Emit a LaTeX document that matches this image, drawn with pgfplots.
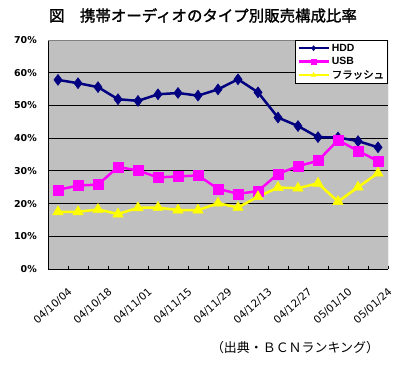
\documentclass[border=0pt]{standalone}
\usepackage{fontspec}
\setmainfont{Liberation Sans}
\newfontfamily\dejavu{DejaVu Sans}
\newfontfamily\jp[AutoFakeBold=1.5]{Noto Sans CJK JP}
\usepackage{pgfplots}
\pgfplotsset{compat=1.18}
\usepackage{pgfplotstable}
\definecolor{navy}{RGB}{0,0,128}
\definecolor{mag}{RGB}{255,0,255}
\definecolor{yel}{RGB}{255,255,0}
\definecolor{plotgray}{RGB}{192,192,192}
\pgfplotstableread{
x hdd usb fl
1 57.8 24.2 17.5
2 56.8 25.5 17.5
3 55.6 25.8 18.2
4 51.9 31.2 16.8
5 51.4 30.1 18.7
6 53.4 28.0 18.8
7 53.8 28.3 18.0
8 53.0 28.6 18.0
9 54.9 24.5 20.1
10 58.0 23.0 18.8
11 54.0 23.8 22.1
12 46.3 29.1 24.9
13 43.7 31.4 24.7
14 40.3 33.1 26.2
15 40.2 39.4 20.6
16 39.1 36.1 25.0
17 37.2 33.0 29.3
}\data
\begin{document}
\begin{tikzpicture}
\begin{axis}[
  name=ax,
  scale only axis,
  width=340bp, height=229bp,
  xmin=0.5, xmax=17.5, ymin=0, ymax=70,
  axis background/.style={fill=plotgray},
  axis x line*=bottom, axis y line*=left,
  axis line style={black, line width=0.8bp},
  xtick={1,3,...,17},
  xticklabels={04/10/04,04/10/18,04/11/01,04/11/15,04/11/29,04/12/13,04/12/27,05/01/10,05/01/24},
  minor xtick={0.5,1.5,...,17.5},
  major tick length=0pt,
  minor tick length=3bp,
  tick align=inside,
  minor x tick style={black, line width=0.8bp},
  ytick={0,10,...,70},
  yticklabels={0\%,10\%,20\%,30\%,40\%,50\%,60\%,70\%},
  ymajorgrids,
  major grid style={black, line width=0.8bp},
  /pgf/number format/assume math mode=true,
  xticklabel style={font=\dejavu\fontsize{10.5}{13}\selectfont, rotate=42, anchor=east, inner sep=0pt, yshift=-24bp, xshift=-5bp},
  yticklabel style={font=\dejavu\bfseries\fontsize{9.5}{12}\selectfont, anchor=east, inner sep=0pt, xshift=-11bp},
  legend style={at={(rel axis cs:1,1)}, anchor=north east, draw=black, fill=white, line width=0.8bp,
    font=\bfseries\fontsize{10.5}{12}\selectfont, inner sep=1.5bp, row sep=0.5bp},
  legend cell align=left,
  legend image code/.code={\draw[mark repeat=2,mark phase=2,mark size=2.5bp,#1] plot coordinates {(0bp,0bp)(15bp,0bp)(30bp,0bp)};},
]
\addplot[navy, line width=2.5bp, mark=diamond*, mark size=5.5bp, mark options={fill=navy, draw=navy, line width=0.5bp}] table[x=x,y=hdd]{\data};
\addlegendentry{HDD}
\addplot[mag, line width=2.5bp, mark=square*, mark size=5bp, mark options={fill=mag, draw=mag, line width=0.5bp}] table[x=x,y=usb]{\data};
\addlegendentry{USB}
\addplot[yel, line width=2.5bp, mark=triangle*, mark size=6bp, mark options={fill=yel, draw=yel, line width=0.5bp}] table[x=x,y=fl]{\data};
\addlegendentry{\jp\textbf{フラッシュ}}
\draw[gray, line width=0.8bp] (rel axis cs:0,1) -- (rel axis cs:1,1) -- (rel axis cs:1,0);
\end{axis}
\node[font=\jp\bfseries\fontsize{15.5}{18}\selectfont] at ([shift={(155bp,24.5bp)}]ax.north west) {図　携帯オーディオのタイプ別販売構成比率};
\node[font=\jp\fontsize{13}{15}\selectfont] at ([shift={(247bp,-79bp)}]ax.south west) {（出典・ＢＣＮランキング）};
\pgfresetboundingbox
\path[use as bounding box] (ax.south west) ++(-48bp,-96bp) rectangle ++(395bp,365bp);
\end{tikzpicture}
\end{document}
